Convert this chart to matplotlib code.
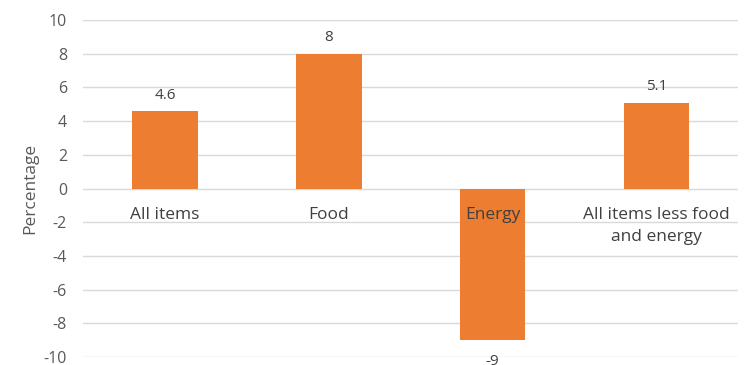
import matplotlib.pyplot as plt
import numpy as np

plt.rcParams['font.family'] = ['Open Sans', 'DejaVu Sans']

# categories and percentage changes
categories = ["All items", "Food", "Energy", "All items less food\nand energy"]
values = [4.6, 8, -9, 5.1]
value_labels = ["4.6", "8", "-9", "5.1"]
yticks = [-10, -8, -6, -4, -2, 0, 2, 4, 6, 8, 10]

bar_color = "#ed7d31"
text_color = "#404040"
tick_color = "#595959"

fig = plt.figure(figsize=(7.48, 3.65), dpi=100)
ax = fig.add_axes([0.111, 0.022, 0.876, 0.923])

x = np.arange(len(categories))
ax.bar(x, values, width=0.4, color=bar_color, zorder=2)

ax.set_xlim(-0.5, len(categories) - 0.5)
ax.set_ylim(-10, 10)
ax.set_yticks(yticks)
ax.set_yticklabels([str(t) for t in yticks])
ax.tick_params(axis='y', length=0, pad=11.5, labelsize=11.5, labelcolor=tick_color)
ax.set_xticks([])
ax.yaxis.grid(True, color="#d9d9d9", lw=1, zorder=0)
for s in ax.spines.values():
    s.set_visible(False)

ax.set_ylabel("Percentage", fontsize=12.5, color=tick_color, labelpad=4)

# category names sit just under the zero line
for xi, name in zip(x, categories):
    ax.annotate(name, (xi, 0), xytext=(0, -13), textcoords='offset points',
                ha='center', va='top', fontsize=12.5, color=text_color,
                linespacing=1.55, zorder=3)

# value labels above positive bars, below negative ones
for xi, v, lab in zip(x, values, value_labels):
    off = 6 if v >= 0 else -10
    ax.annotate(lab, (xi, v), xytext=(0, off), textcoords='offset points',
                ha='center', va='bottom' if v >= 0 else 'top',
                fontsize=11, color=text_color, annotation_clip=False)

fig.savefig("out.png", dpi=100)
